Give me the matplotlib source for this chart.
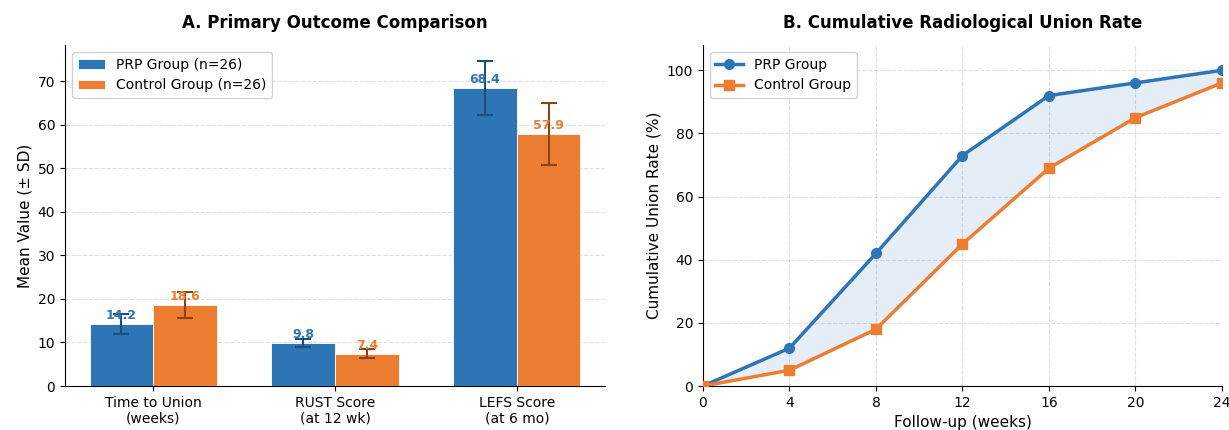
import numpy as np
import matplotlib
matplotlib.use("Agg")
import matplotlib.pyplot as plt

# ---- data ----
categories = ["Time to Union\n(weeks)", "RUST Score\n(at 12 wk)", "LEFS Score\n(at 6 mo)"]
prp_means = [14.2, 9.8, 68.4]
prp_sd = [2.3, 0.9, 6.2]
ctrl_means = [18.6, 7.4, 57.9]
ctrl_sd = [2.9, 1.0, 7.2]

weeks = [0, 4, 8, 12, 16, 20, 24]
prp_union = [0, 12, 42, 73, 92, 96, 100]
ctrl_union = [0, 5, 18, 45, 69, 85, 96]

BLUE = "#2E75B6"
ORANGE = "#ED7D31"
DBLUE = "#1F4E79"
DORANGE = "#8B4513"

plt.rcParams['font.family'] = ['DejaVu Sans']

fig = plt.figure(figsize=(12.29, 4.30), dpi=100)
ax1 = fig.add_axes([0.0529, 0.1023, 0.4394, 0.793])
ax2 = fig.add_axes([0.572, 0.1023, 0.4223, 0.793])

# ---- Panel A ----
x = np.arange(len(categories))
w = 0.35
b1 = ax1.bar(x - w / 2, prp_means, w, yerr=prp_sd, capsize=6, color=BLUE,
             edgecolor="white", linewidth=0.6, label="PRP Group (n=26)",
             error_kw=dict(ecolor=DBLUE, elinewidth=1.5, capthick=1.5), zorder=3)
b2 = ax1.bar(x + w / 2, ctrl_means, w, yerr=ctrl_sd, capsize=6, color=ORANGE,
             edgecolor="white", linewidth=0.6, label="Control Group (n=26)",
             error_kw=dict(ecolor=DORANGE, elinewidth=1.5, capthick=1.5), zorder=3)
for xi, v in zip(x - w / 2, prp_means):
    ax1.text(xi, v + 0.5, f"{v}", ha="center", va="bottom", fontsize=9,
             fontweight="bold", color=BLUE, zorder=4)
for xi, v in zip(x + w / 2, ctrl_means):
    ax1.text(xi, v + 0.5, f"{v}", ha="center", va="bottom", fontsize=9,
             fontweight="bold", color=ORANGE, zorder=4)

ax1.set_xticks(x)
ax1.set_xticklabels(categories, fontsize=10)
ax1.set_ylabel("Mean Value (± SD)", fontsize=11)
ax1.set_title("A. Primary Outcome Comparison", fontsize=12, fontweight="bold", pad=12)
ax1.yaxis.grid(True, linestyle="--", alpha=0.4, zorder=0)
ax1.set_axisbelow(True)
ax1.spines["top"].set_visible(False)
ax1.spines["right"].set_visible(False)
ax1.legend(loc="upper left", fontsize=10, framealpha=0.9)
ax1.tick_params(labelsize=10)

# ---- Panel B ----
ax2.plot(weeks, prp_union, "-o", color=BLUE, linewidth=2.5, markersize=7, label="PRP Group", zorder=3)
ax2.plot(weeks, ctrl_union, "-s", color=ORANGE, linewidth=2.5, markersize=7, label="Control Group", zorder=3)
ax2.fill_between(weeks, prp_union, ctrl_union, color=BLUE, alpha=0.12, zorder=1)
ax2.set_xlim(0, 24)
ax2.set_ylim(0, 108)
ax2.set_xticks(weeks)
ax2.set_xlabel("Follow-up (weeks)", fontsize=11)
ax2.set_ylabel("Cumulative Union Rate (%)", fontsize=11)
ax2.set_title("B. Cumulative Radiological Union Rate", fontsize=12, fontweight="bold", pad=12)
ax2.grid(True, linestyle="--", alpha=0.4)
ax2.set_axisbelow(True)
ax2.spines["top"].set_visible(False)
ax2.spines["right"].set_visible(False)
ax2.legend(loc="upper left", fontsize=10, framealpha=0.9)
ax2.tick_params(labelsize=10)

fig.savefig("out.png", dpi=100)
